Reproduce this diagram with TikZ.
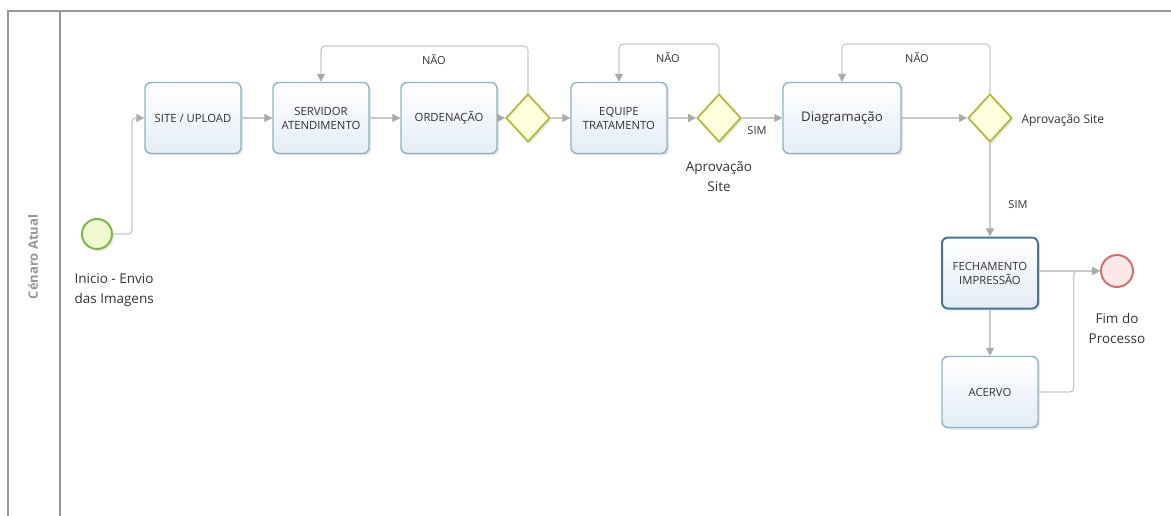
\documentclass[tikz,border=0pt]{standalone}
\usepackage{fontspec}
\setmainfont{Open Sans}
\usetikzlibrary{shapes.geometric,arrows.meta,shadows,calc}
\definecolor{frame}{RGB}{150,150,150}
\definecolor{boxline}{RGB}{140,180,200}
\definecolor{boxdark}{RGB}{70,120,150}
\definecolor{boxbot}{RGB}{228,236,246}
\definecolor{gwline}{RGB}{180,184,60}
\definecolor{gwfill}{RGB}{255,255,222}
\definecolor{stline}{RGB}{125,184,74}
\definecolor{stfill}{RGB}{240,250,208}
\definecolor{enline}{RGB}{208,112,112}
\definecolor{enfill}{RGB}{251,232,232}
\definecolor{conn}{RGB}{200,200,200}
\definecolor{tip}{RGB}{170,170,170}
\definecolor{txt}{RGB}{50,50,50}
\definecolor{lanetxt}{RGB}{150,150,150}
\tikzset{
  task/.style={rectangle, rounded corners=6pt, minimum width=96pt, minimum height=71pt,
    draw=boxline, line width=1.4pt, top color=white, bottom color=boxbot,
    drop shadow={shadow xshift=2pt, shadow yshift=-2pt, opacity=0.2, fill=gray},
    align=center, font=\fontsize{11.3}{14}\selectfont, text=txt, inner sep=2pt},
  gw/.style={diamond, draw=gwline, fill=gwfill, line width=1.8pt, inner sep=0pt,
    minimum width=44pt, minimum height=48pt,
    drop shadow={shadow xshift=2pt, shadow yshift=-2pt, opacity=0.2, fill=gray}},
  flow/.style={draw=conn, line width=1.2pt, rounded corners=4pt,
    -{Triangle[width=8pt,length=8pt,color=tip,fill=tip]}},
  lbl/.style={font=\fontsize{13.5}{20}\selectfont, text=txt, align=center},
  sml/.style={font=\fontsize{11}{13}\selectfont, text=txt},
}
\begin{document}
\begin{tikzpicture}[x=1pt,y=-1pt]
\useasboundingbox (0,0) rectangle (1171,516);
% frame
\draw[frame, line width=1.2pt] (8,516) -- (8,11) -- (1171,11);
\draw[frame, line width=1.2pt] (60,11) -- (60,516);
\node[rotate=90, font=\fontsize{13}{15}\selectfont\bfseries, text=lanetxt] (lane) at (33,257) {Cénaro Atual};

% events
\node[circle, draw=stline, fill=stfill, line width=2pt, minimum size=30pt, inner sep=0pt,
  drop shadow={shadow xshift=2pt, shadow yshift=-2pt, opacity=0.2, fill=gray}] (start) at (97,234) {};
\node[lbl, align=left, anchor=west] (startlbl) at (71,290) {Inicio - Envio\\das Imagens};
\node[circle, draw=enline, fill=enfill, line width=2pt, minimum size=32pt, inner sep=0pt] (end) at (1117,271) {};
\node[lbl] (endlbl) at (1117,328) {Fim do\\Processo};

% tasks
\node[task] (site) at (193,118) {SITE / UPLOAD};
\node[task] (serv) at (321,118) {SERVIDOR\\ATENDIMENTO};
\node[task] (ord) at (449,118) {ORDENAÇÃO};
\node[gw] (d1) at (528,118) {};
\node[task] (equipe) at (619,118) {EQUIPE\\TRATAMENTO};
\node[gw] (d2) at (719,118) {};
\node[task, minimum width=118pt, font=\fontsize{13.3}{16}\selectfont] (diag) at (842,118) {Diagramação};
\node[gw] (d3) at (990,118) {};
\node[task, draw=boxdark, line width=2pt] (fech) at (990,273) {FECHAMENTO\\IMPRESSÃO};
\node[task] (acervo) at (990,392) {ACERVO};

% labels
\node[lbl] (apr1) at (719,177) {Aprovação\\Site};
\node[sml, font=\fontsize{12}{14}\selectfont, anchor=west] (apr2) at (1018,121) {Aprovação Site};
\node[sml] (sim1) at (757,131) {SIM};
\node[sml] (sim2) at (1018,205) {SIM};
\node[sml] (nao1) at (434,60) {NÃO};
\node[sml] (nao2) at (668,58) {NÃO};
\node[sml] (nao3) at (917,58) {NÃO};

% connectors
\draw[flow] (start.east) -- ++(19,0) |- (site.west);
\draw[flow] (site) -- (serv);
\draw[flow] (serv) -- (ord);
\draw[flow] (ord) -- (d1);
\draw[flow] (d1) -- (equipe);
\draw[flow] (d1.north) -- ++(0,-47) -| (serv.north);
\draw[flow] (equipe) -- (d2);
\draw[flow] (d2.north) -- ++(0,-49) -| (equipe.north);
\draw[flow] (d2) -- (diag);
\draw[flow] (diag) -- (d3);
\draw[flow] (d3.north) -- ++(0,-49) -| (diag.north);
\draw[flow] (d3.south) -- (fech.north);
\draw[flow] (fech.east |- end.west) -- (end.west);
\draw[flow] (fech.south) -- (acervo.north);
\draw[flow] (acervo.east) -- ++(35,0) |- (end.west);
\end{tikzpicture}
\end{document}
